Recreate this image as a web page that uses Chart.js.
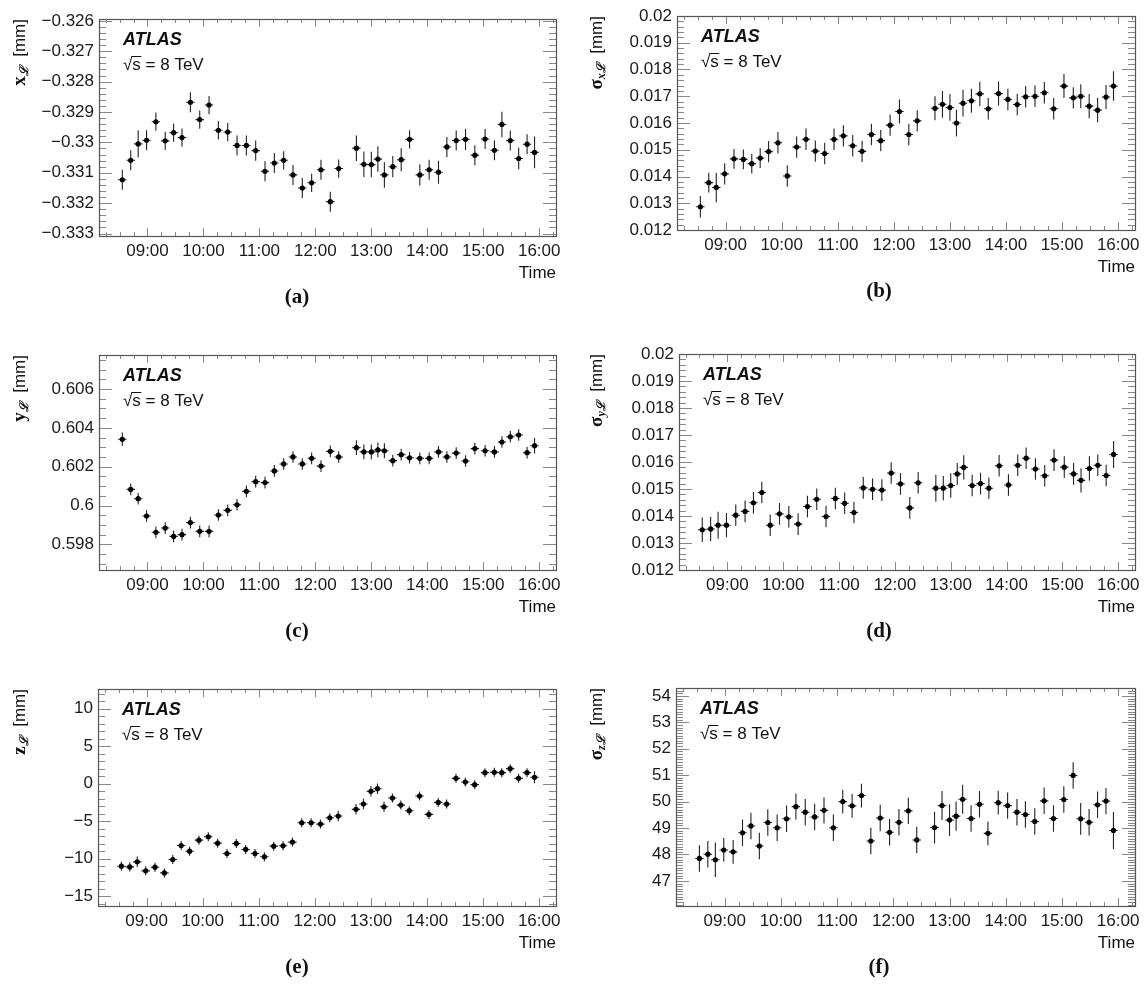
<!DOCTYPE html>
<html>
<head>
<meta charset="utf-8">
<script src="https://cdn.jsdelivr.net/npm/chart.js@4"></script>
<style>
  body { margin: 0; background: #fff; }
  #wrap { position: relative; width: 1145px; height: 987px; }
  #wrap canvas { position: absolute; }
</style>
</head>
<body>
<div id="wrap">
  <canvas id="pa" width="575" height="315" style="left:0;top:0"></canvas>
  <canvas id="pb" width="575" height="315" style="left:570px;top:0"></canvas>
  <canvas id="pc" width="575" height="315" style="left:0;top:330px"></canvas>
  <canvas id="pd" width="575" height="315" style="left:570px;top:330px"></canvas>
  <canvas id="pe" width="575" height="327" style="left:0;top:660px"></canvas>
  <canvas id="pf" width="575" height="327" style="left:570px;top:660px"></canvas>
</div>
<script>
// bin centres (local time)
var times = ['08:33','08:42','08:50','08:59','09:09','09:19','09:28','09:37','09:46','09:56',
  '10:06','10:16','10:26','10:36','10:46','10:56','11:06','11:16','11:26','11:36',
  '11:46','11:56','12:06','12:16','12:25','12:44','12:52','13:00','13:07','13:14',
  '13:23','13:32','13:41','13:52','14:02','14:12','14:21','14:31','14:41','14:51',
  '15:02','15:12','15:20','15:29','15:38','15:47','15:55'];
var halfBin = 4.5; // minutes

// (a) x position of luminous centroid
var xLum = [-0.33123,-0.33059,-0.33005,-0.32993,-0.32932,-0.32995,-0.32968,-0.32984,-0.32868,-0.32925,
  -0.32877,-0.32960,-0.32966,-0.33010,-0.33010,-0.33027,-0.33095,-0.33068,-0.33059,-0.33107,
  -0.33150,-0.33133,-0.33090,-0.33195,-0.33086,-0.33019,-0.33072,-0.33073,-0.33055,-0.33107,
  -0.33080,-0.33057,-0.32990,-0.33107,-0.33090,-0.33098,-0.33015,-0.32994,-0.32990,-0.33042,
  -0.32989,-0.33026,-0.32941,-0.32994,-0.33053,-0.33006,-0.33033];
var xLumErr = [0.00033,0.00033,0.00045,0.00033,0.0003,0.0003,0.0003,0.0003,0.00033,0.0003,
  0.0003,0.0003,0.0003,0.00033,0.00033,0.00033,0.00033,0.00033,0.0003,0.00033,
  0.00033,0.0003,0.00033,0.00033,0.0003,0.00042,0.00042,0.00042,0.00042,0.00042,
  0.00035,0.00038,0.0003,0.00035,0.00033,0.00038,0.00033,0.00033,0.00035,0.00033,
  0.00033,0.00033,0.00042,0.00033,0.00035,0.00033,0.00052];

// (b) sigma x
var sigX = [0.01287,0.01377,0.01359,0.01410,0.01466,0.01464,0.01448,0.01469,0.01493,0.01526,
  0.01402,0.01510,0.01539,0.01495,0.01486,0.01539,0.01552,0.01515,0.01494,0.01557,
  0.01534,0.01592,0.01643,0.01557,0.01608,0.01655,0.01670,0.01658,0.01600,0.01674,
  0.01683,0.01709,0.01653,0.01710,0.01688,0.01669,0.01698,0.01700,0.01713,0.01653,
  0.01738,0.01694,0.01700,0.01663,0.01648,0.01697,0.01738];
var sigXErr = [0.0004,0.00037,0.00055,0.0004,0.00037,0.00037,0.00037,0.00037,0.0004,0.0004,
  0.0004,0.0004,0.0004,0.0004,0.0004,0.0004,0.0004,0.0004,0.0004,0.0004,
  0.0004,0.0004,0.00045,0.0004,0.0004,0.00045,0.0005,0.0005,0.0005,0.0005,
  0.00045,0.00045,0.0004,0.00045,0.0004,0.0004,0.0004,0.0004,0.0004,0.0004,
  0.00045,0.0004,0.00045,0.00045,0.00045,0.00045,0.00055];

// (c) y position
var yLum = [0.60341,0.60083,0.60035,0.59946,0.59862,0.59884,0.59841,0.59850,0.59912,0.59867,
  0.59867,0.59951,0.59975,0.60004,0.60073,0.60123,0.60118,0.60178,0.60214,0.60250,
  0.60214,0.60243,0.60203,0.60279,0.60250,0.60298,0.60276,0.60276,0.60286,0.60282,
  0.60231,0.60262,0.60246,0.60243,0.60243,0.60276,0.60250,0.60270,0.60229,0.60293,
  0.60282,0.60276,0.60327,0.60354,0.60363,0.60272,0.60308];
var yLumErr = [0.00035,0.0003,0.0003,0.0003,0.0003,0.0003,0.0003,0.0003,0.0003,0.0003,
  0.0003,0.0003,0.0003,0.0003,0.0003,0.0003,0.0003,0.0003,0.0003,0.0003,
  0.0003,0.0003,0.0003,0.0003,0.0003,0.00038,0.00038,0.00038,0.00038,0.00038,
  0.0003,0.0003,0.0003,0.0003,0.0003,0.0003,0.0003,0.0003,0.0003,0.0003,
  0.0003,0.0003,0.0003,0.0003,0.0003,0.0003,0.0004];

// (d) sigma y
var sigY = [0.01349,0.01352,0.01366,0.01366,0.01403,0.01417,0.01449,0.01487,0.01366,0.01408,
  0.01397,0.01370,0.01435,0.01462,0.01398,0.01465,0.01447,0.01413,0.01504,0.01499,
  0.01496,0.01559,0.01519,0.01430,0.01523,0.01503,0.01503,0.01513,0.01556,0.01580,
  0.01513,0.01520,0.01503,0.01586,0.01515,0.01588,0.01614,0.01574,0.01549,0.01607,
  0.01581,0.01556,0.01532,0.01576,0.01588,0.01550,0.01628];
var sigYErr = [0.00045,0.00045,0.0005,0.00045,0.0004,0.0004,0.0004,0.0004,0.0004,0.0004,
  0.0004,0.0004,0.0004,0.0004,0.0004,0.0004,0.0004,0.0004,0.0004,0.0004,
  0.0004,0.0004,0.0004,0.0004,0.0004,0.0005,0.00045,0.00045,0.0004,0.00045,
  0.0004,0.0004,0.0004,0.0004,0.0004,0.0004,0.0004,0.0004,0.0004,0.0004,
  0.0004,0.0004,0.00045,0.00045,0.0004,0.0004,0.0005];

// (e) z position
var zLum = [-11.0,-11.09,-10.42,-11.62,-11.13,-11.89,-10.11,-8.24,-9.0,-7.53,
  -7.08,-7.93,-9.31,-7.97,-8.77,-9.31,-9.75,-8.33,-8.28,-7.79,
  -5.21,-5.21,-5.39,-4.55,-4.32,-3.43,-2.72,-1.03,-0.68,-3.08,
  -1.92,-2.86,-3.61,-1.66,-4.10,-2.50,-2.72,0.70,0.21,-0.14,
  1.46,1.50,1.46,1.99,0.70,1.46,0.84];
var zLumErr = [0.6,0.6,0.7,0.6,0.6,0.6,0.6,0.6,0.6,0.6,
  0.6,0.6,0.6,0.6,0.6,0.6,0.6,0.6,0.6,0.6,
  0.6,0.6,0.6,0.6,0.7,0.7,0.7,0.7,0.7,0.7,
  0.6,0.6,0.6,0.6,0.6,0.6,0.6,0.6,0.6,0.6,
  0.6,0.6,0.6,0.6,0.6,0.6,0.8];

// (f) sigma z
var sigZ = [47.85,48.01,47.80,48.17,48.10,48.82,49.08,48.32,49.21,49.01,
  49.35,49.81,49.60,49.42,49.67,49.01,50.00,49.84,50.23,48.51,
  49.38,48.84,49.22,49.65,48.55,49.02,49.85,49.30,49.45,50.09,
  49.36,49.90,48.80,49.96,49.85,49.60,49.51,49.25,50.03,49.36,
  50.08,50.99,49.35,49.22,49.88,50.02,48.91];
var sigZErr = [0.5,0.5,0.65,0.45,0.45,0.5,0.5,0.5,0.5,0.5,
  0.5,0.5,0.5,0.5,0.5,0.5,0.45,0.45,0.45,0.5,
  0.5,0.5,0.5,0.5,0.5,0.6,0.55,0.6,0.55,0.55,
  0.5,0.5,0.45,0.45,0.5,0.5,0.5,0.5,0.5,0.5,
  0.5,0.5,0.6,0.5,0.5,0.5,0.7];

var SANS = '"Liberation Sans", Arial, sans-serif';
var SERIF = '"Liberation Serif", "DejaVu Serif", serif';

function toMin(s) {
  var p = s.split(':');
  return +p[0] * 60 + +p[1];
}
function hhmm(v) {
  var h = Math.floor(v / 60), m = Math.round(v - h * 60);
  return (h < 10 ? '0' : '') + h + ':' + (m < 10 ? '0' : '') + m;
}
function numLabel(v) {
  return parseFloat(v.toFixed(6)).toString().replace('-', '\u2212');
}
function tickList(min, max, step, sub) {
  var ms = step / sub, out = [];
  var k0 = Math.ceil(min / ms - 1e-6), k1 = Math.floor(max / ms + 1e-6);
  for (var k = k0; k <= k1; k++) {
    out.push({ v: k * ms, major: ((k % sub) + sub) % sub === 0 });
  }
  return out;
}

// ROOT style frame, ticks, error bars and texts
var rootPlugin = {
  id: 'rootFrame',
  beforeDatasetsDraw: function(chart, args, o) {
    var ctx = chart.ctx, xs = chart.scales.x, ys = chart.scales.y;
    var pts = chart.data.datasets[0].data;
    ctx.save();
    ctx.strokeStyle = '#222';
    ctx.lineWidth = 1.1;
    ctx.beginPath();
    pts.forEach(function(p, i) {
      var e = o.errors[i];
      var px = xs.getPixelForValue(p.x), py = ys.getPixelForValue(p.y);
      ctx.moveTo(px, ys.getPixelForValue(p.y - e));
      ctx.lineTo(px, ys.getPixelForValue(p.y + e));
      ctx.moveTo(xs.getPixelForValue(p.x - halfBin), py);
      ctx.lineTo(xs.getPixelForValue(p.x + halfBin), py);
    });
    ctx.stroke();
    ctx.restore();
  },
  afterDraw: function(chart, args, o) {
    var ctx = chart.ctx, a = chart.chartArea, xs = chart.scales.x, ys = chart.scales.y;
    ctx.save();
    // ticks
    ctx.strokeStyle = '#888';
    ctx.lineWidth = 1;
    ctx.beginPath();
    tickList(ys.min, ys.max, o.yStep, o.ySub).forEach(function(t) {
      var py = Math.round(ys.getPixelForValue(t.v)) + 0.5;
      var len = t.major ? 13 : 7;
      ctx.moveTo(a.left, py); ctx.lineTo(a.left + len, py);
      ctx.moveTo(a.right, py); ctx.lineTo(a.right - len, py);
    });
    tickList(xs.min, xs.max, 60, 4).forEach(function(t) {
      var px = Math.round(xs.getPixelForValue(t.v)) + 0.5;
      var len = t.major ? 8 : 4;
      ctx.moveTo(px, a.bottom); ctx.lineTo(px, a.bottom - len);
      ctx.moveTo(px, a.top); ctx.lineTo(px, a.top + len);
    });
    ctx.stroke();
    // frame
    ctx.strokeStyle = '#555';
    ctx.lineWidth = 1.2;
    ctx.strokeRect(Math.round(a.left) + 0.5, Math.round(a.top) + 0.5,
      Math.round(a.right - a.left), Math.round(a.bottom - a.top));

    ctx.fillStyle = '#111';
    // ATLAS label
    ctx.textBaseline = 'middle';
    ctx.textAlign = 'left';
    ctx.font = 'italic bold 18px ' + SANS;
    ctx.fillText('ATLAS', a.left + 24, a.top + 21);
    // sqrt(s) = 8 TeV
    ctx.font = '17px ' + SANS;
    var sx = a.left + 24, sy = a.top + 46;
    var wRoot = ctx.measureText('\u221A').width;
    var wS = ctx.measureText('s').width;
    ctx.fillText('\u221As = 8 TeV', sx, sy);
    ctx.lineWidth = 1;
    ctx.strokeStyle = '#111';
    ctx.beginPath();
    ctx.moveTo(sx + wRoot - 1, sy - 8.5);
    ctx.lineTo(sx + wRoot + wS + 0.5, sy - 8.5);
    ctx.stroke();

    // x title
    ctx.textAlign = 'right';
    ctx.font = '17px ' + SANS;
    ctx.fillText('Time', a.right, a.bottom + 37);

    // panel label
    ctx.textAlign = 'center';
    ctx.font = 'bold 21px ' + SERIF;
    ctx.fillText(o.label, o.labelX, a.bottom + 62);

    // y title, rotated, ending at the top of the frame
    var parts = o.yTitle;
    var total = 0;
    parts.forEach(function(p) { ctx.font = p.font; p.w = ctx.measureText(p.t).width; total += p.w; });
    ctx.translate(o.titleX, a.top);
    ctx.rotate(-Math.PI / 2);
    ctx.textAlign = 'left';
    var cx = -total;
    parts.forEach(function(p) {
      ctx.font = p.font;
      ctx.fillText(p.t, cx, p.dy || 0);
      cx += p.w;
    });
    ctx.restore();
  }
};

function titleParts(sym, sub) {
  return [
    { t: sym, font: 'bold 19px ' + SERIF },
    { t: sub, font: 'bold italic 12px ' + SERIF, dy: 5 },
    { t: '  [mm]', font: '17px ' + SANS }
  ];
}

function makePanel(id, p) {
  var canvas = document.getElementById(id);
  var H = canvas.height, W = canvas.width;
  var data = times.map(function(t, i) { return { x: toMin(t), y: p.values[i] }; });
  return new Chart(canvas.getContext('2d'), {
    type: 'scatter',
    data: {
      datasets: [{
        data: data,
        pointRadius: 2.6,
        pointHoverRadius: 2.6,
        pointBackgroundColor: '#000',
        pointBorderWidth: 0,
        showLine: false
      }]
    },
    plugins: [rootPlugin],
    options: {
      responsive: false,
      animation: false,
      events: [],
      layout: { padding: { left: 0, top: p.plot[1], right: W - p.plot[2], bottom: 0 } },
      plugins: {
        legend: { display: false },
        tooltip: { enabled: false },
        rootFrame: {
          errors: p.errors,
          yStep: p.yStep,
          ySub: p.ySub,
          yTitle: p.yTitle,
          titleX: p.titleX,
          label: p.label,
          labelX: p.labelX
        }
      },
      scales: {
        x: {
          type: 'linear',
          min: 488,
          max: 978,
          border: { display: false },
          grid: { display: false, drawTicks: false },
          ticks: {
            stepSize: 60,
            includeBounds: false,
            autoSkip: false,
            maxRotation: 0,
            padding: 5,
            color: '#1a1a1a',
            font: { family: SANS, size: 17 },
            callback: function(v) { return hhmm(v); }
          },
          afterFit: function(s) { s.height = H - p.plot[3]; }
        },
        y: {
          min: p.yMin,
          max: p.yMax,
          border: { display: false },
          grid: { display: false, drawTicks: false },
          ticks: {
            stepSize: p.yStep,
            includeBounds: false,
            autoSkip: false,
            padding: 5,
            color: '#1a1a1a',
            font: { family: SANS, size: 17 },
            callback: function(v) { return numLabel(v); }
          },
          afterFit: function(s) { s.width = p.plot[0]; }
        }
      }
    }
  });
}

makePanel('pa', {
  values: xLum, errors: xLumErr, plot: [99, 19, 556, 236],
  yMin: -0.33308, yMax: -0.32594, yStep: 0.001, ySub: 5,
  yTitle: titleParts('x', '\u2112'), titleX: 20, label: '(a)', labelX: 297
});
makePanel('pb', {
  values: sigX, errors: sigXErr, plot: [107, 16, 565, 230],
  yMin: 0.012, yMax: 0.02, yStep: 0.001, ySub: 5,
  yTitle: titleParts('\u03C3', 'x\u2112'), titleX: 27, label: '(b)', labelX: 309
});
makePanel('pc', {
  values: yLum, errors: yLumErr, plot: [99, 25, 556, 240],
  yMin: 0.59668, yMax: 0.60775, yStep: 0.002, ySub: 4,
  yTitle: titleParts('y', '\u2112'), titleX: 20, label: '(c)', labelX: 297
});
makePanel('pd', {
  values: sigY, errors: sigYErr, plot: [109, 24, 565, 240],
  yMin: 0.012, yMax: 0.02, yStep: 0.001, ySub: 5,
  yTitle: titleParts('\u03C3', 'y\u2112'), titleX: 27, label: '(d)', labelX: 309
});
makePanel('pe', {
  values: zLum, errors: zLumErr, plot: [98, 29, 556, 246],
  yMin: -16.3, yMax: 12.6, yStep: 5, ySub: 5,
  yTitle: titleParts('z', '\u2112'), titleX: 20, label: '(e)', labelX: 297
});
makePanel('pf', {
  values: sigZ, errors: sigZErr, plot: [106, 28, 565, 246],
  yMin: 46.05, yMax: 54.3, yStep: 1, ySub: 10,
  yTitle: titleParts('\u03C3', 'z\u2112'), titleX: 27, label: '(f)', labelX: 309
});
</script>
</body>
</html>
